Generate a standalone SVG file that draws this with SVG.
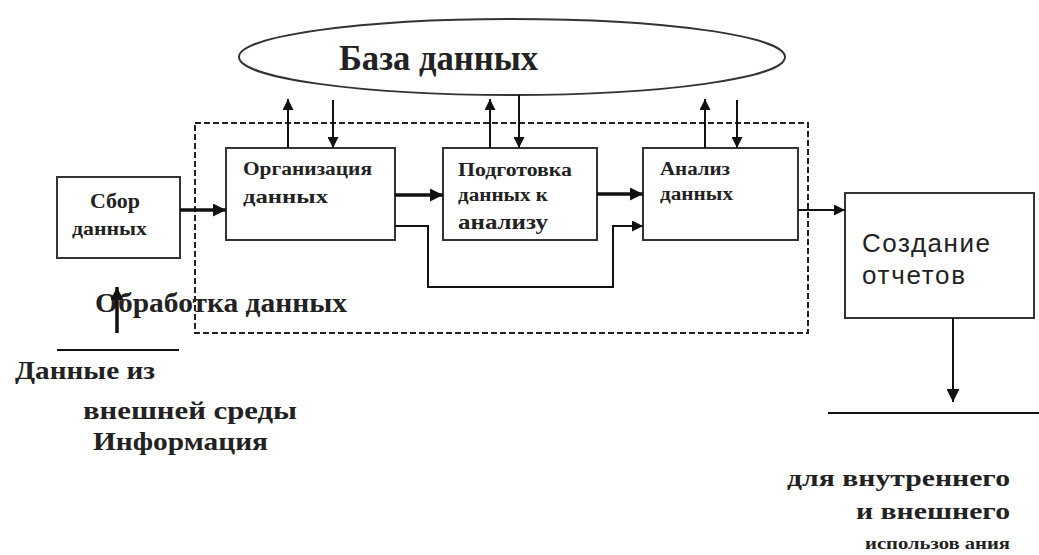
<svg xmlns="http://www.w3.org/2000/svg" width="1039" height="555" viewBox="0 0 1039 555">
<defs>
<marker id="ah" viewBox="0 0 10 10" refX="10" refY="5" markerWidth="13" markerHeight="11" markerUnits="userSpaceOnUse" orient="auto">
<path d="M0,0 L10,5 L0,10 z" fill="#111"/>
</marker>
<marker id="ahb" viewBox="0 0 10 10" refX="10" refY="5" markerWidth="14" markerHeight="13" markerUnits="userSpaceOnUse" orient="auto">
<path d="M0,0 L10,5 L0,10 z" fill="#111"/>
</marker>
</defs>
<style>
.box{fill:#fff;stroke:#333;stroke-width:2}
.ln{fill:none;stroke:#111;stroke-width:2}
.thick{fill:none;stroke:#111;stroke-width:3.5}
.ser{font-family:"Liberation Serif","Times New Roman",serif;font-weight:bold;fill:#222}
.sans{font-family:"Liberation Sans",Arial,sans-serif;fill:#222}
.dash{fill:none;stroke:#222;stroke-width:2;stroke-dasharray:6 3}
</style>
<rect width="1039" height="555" fill="#fff"/>

<g id="db">
<ellipse cx="512" cy="57" rx="273" ry="38" fill="#fff" stroke="#333" stroke-width="2"/>
<text class="ser" x="339" y="70" font-size="36" textLength="199" lengthAdjust="spacingAndGlyphs">База данных</text>
</g>

<g id="processing-frame">
<rect class="dash" x="195" y="123" width="613" height="210"/>
</g>

<g id="collect">
<rect class="box" x="57" y="177" width="123" height="81"/>
<text class="ser" x="90" y="208" font-size="20" textLength="50" lengthAdjust="spacingAndGlyphs">Сбор</text>
<text class="ser" x="72" y="235" font-size="19" textLength="75" lengthAdjust="spacingAndGlyphs">данных</text>
</g>

<g id="organize">
<rect class="box" x="226" y="148" width="169" height="92"/>
<text class="ser" x="243" y="175" font-size="18" textLength="129" lengthAdjust="spacingAndGlyphs">Организация</text>
<text class="ser" x="243" y="203" font-size="19" textLength="85" lengthAdjust="spacingAndGlyphs">данных</text>
</g>

<g id="prepare">
<rect class="box" x="443" y="148" width="154" height="92"/>
<text class="ser" x="458" y="176" font-size="18" textLength="114" lengthAdjust="spacingAndGlyphs">Подготовка</text>
<text class="ser" x="458" y="201" font-size="18" textLength="90" lengthAdjust="spacingAndGlyphs">данных к</text>
<text class="ser" x="458" y="229" font-size="22" font-weight="normal" textLength="90" lengthAdjust="spacingAndGlyphs">анализу</text>
</g>

<g id="analyze">
<rect class="box" x="643" y="148" width="155" height="92"/>
<text class="ser" x="660" y="175" font-size="18" textLength="70" lengthAdjust="spacingAndGlyphs">Анализ</text>
<text class="ser" x="660" y="200" font-size="18" textLength="73" lengthAdjust="spacingAndGlyphs">данных</text>
</g>

<g id="report">
<rect class="box" x="845" y="193" width="189" height="125"/>
<text class="sans" x="862" y="252" font-size="26" textLength="128" lengthAdjust="spacing">Создание</text>
<text class="sans" x="862" y="284" font-size="26" textLength="103" lengthAdjust="spacing">отчетов</text>
</g>

<g id="labels">
<text class="ser" x="95" y="312" font-size="27" textLength="252" lengthAdjust="spacingAndGlyphs">Обработка данных</text>
<text class="ser" x="15" y="379" font-size="25" textLength="140" lengthAdjust="spacingAndGlyphs">Данные из</text>
<text class="ser" x="83" y="419" font-size="26" textLength="214" lengthAdjust="spacingAndGlyphs">внешней среды</text>
<text class="ser" x="93" y="450" font-size="25" textLength="175" lengthAdjust="spacingAndGlyphs">Информация</text>
<text class="ser" x="787" y="486" font-size="23" textLength="223" lengthAdjust="spacingAndGlyphs">для внутреннего</text>
<text class="ser" x="856" y="519" font-size="23" textLength="154" lengthAdjust="spacingAndGlyphs">и внешнего</text>
<text class="ser" x="865" y="549" font-size="17" textLength="145" lengthAdjust="spacingAndGlyphs">использов ания</text>
</g>

<g id="connectors">
<line class="ln" x1="288" y1="148" x2="288" y2="99" marker-end="url(#ah)"/>
<line class="ln" x1="333" y1="100" x2="333" y2="148" marker-end="url(#ah)"/>
<line class="ln" x1="490" y1="148" x2="490" y2="99" marker-end="url(#ah)"/>
<line class="ln" x1="519" y1="95" x2="519" y2="148" marker-end="url(#ah)"/>
<line class="ln" x1="705" y1="148" x2="705" y2="99" marker-end="url(#ah)"/>
<line class="ln" x1="737" y1="100" x2="737" y2="148" marker-end="url(#ah)"/>
<line class="thick" x1="180" y1="210" x2="226" y2="210" marker-end="url(#ahb)"/>
<line class="thick" x1="395" y1="195" x2="443" y2="195" marker-end="url(#ahb)"/>
<line class="thick" x1="597" y1="194" x2="643" y2="194" marker-end="url(#ahb)"/>
<polyline class="ln" points="395,226 428,226 428,287 613,287 613,226 643,226" marker-end="url(#ah)"/>
<line class="ln" x1="798" y1="210" x2="845" y2="210" marker-end="url(#ah)"/>
<line class="ln" x1="953" y1="318" x2="953" y2="402" marker-end="url(#ahb)"/>
<line class="ln" x1="828" y1="413" x2="1039" y2="413"/>
<line class="thick" x1="117" y1="333" x2="117" y2="287" marker-end="url(#ahb)"/>
<line class="ln" x1="57" y1="350" x2="179" y2="350"/>
</g>
</svg>
